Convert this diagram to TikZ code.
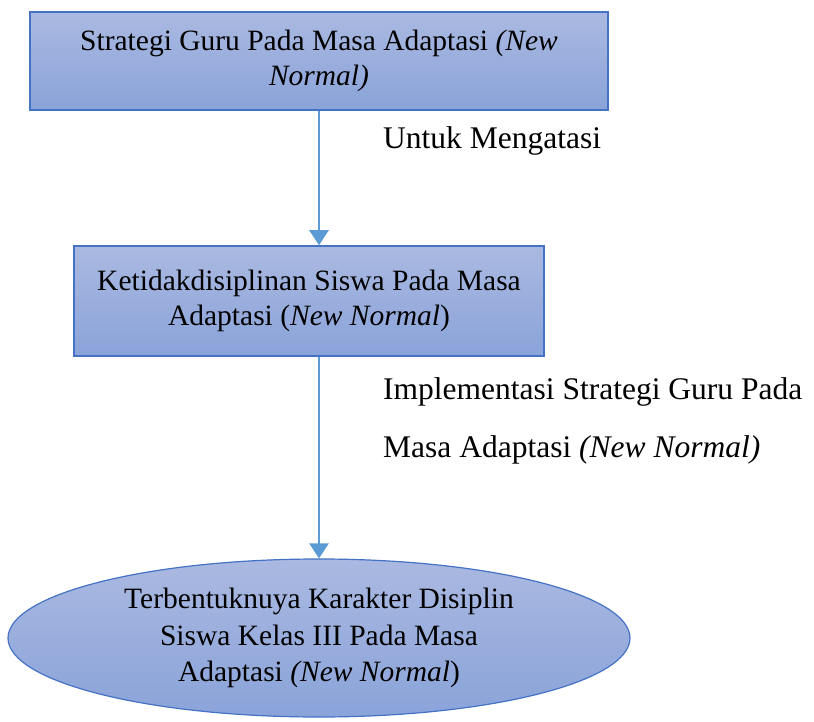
\documentclass[tikz,border=0pt]{standalone}
\usepackage{fontspec}
\setmainfont{Liberation Serif}
\usetikzlibrary{arrows.meta,positioning,calc,shapes.geometric}
\definecolor{BoxTop}{HTML}{AAB9E1}
\definecolor{BoxBot}{HTML}{8AA3D9}
\definecolor{BoxLine}{HTML}{4472C4}
\definecolor{Arrow}{HTML}{5B9BD5}

\begin{document}
\begin{tikzpicture}[x=1pt,y=-1pt,
  flowbox/.style={rectangle,draw=BoxLine,line width=1.5pt,top color=BoxTop,bottom color=BoxBot,
    inner sep=0pt,align=center,font=\fontsize{29.5}{35}\selectfont},
  flowell/.style={ellipse,draw=BoxLine,line width=1.2pt,top color=BoxTop,bottom color=BoxBot,
    inner sep=0pt,align=center,font=\fontsize{29.5}{36.5}\selectfont},
  flowarrow/.style={Arrow,line width=2.6pt,-{Triangle[width=19pt,length=15pt]}},
  flowlabel/.style={anchor=base west,inner sep=0pt,font=\fontsize{31.5}{38}\selectfont}]
\useasboundingbox (0,0) rectangle (814,722);
\node[flowbox,minimum width=578pt,minimum height=98pt] (strategi) at (319,61)
  {Strategi Guru Pada Masa Adaptasi \textit{(New}\\ \textit{Normal)}};
\node[flowbox,minimum width=470pt,minimum height=110pt] (disiplin) at (309,301)
  {Ketidakdisiplinan Siswa Pada Masa\\ Adaptasi (\textit{New Normal})};
\node[flowell,minimum width=622pt,minimum height=158pt] (karakter) at (319,638)
  {Terbentuknuya Karakter Disiplin\\ Siswa Kelas III Pada Masa\\ Adaptasi \textit{(New Normal})};
\draw[flowarrow] (strategi.south) -- (strategi.south |- disiplin.north);
\draw[flowarrow] (strategi.south |- disiplin.south) -- (karakter.north);
\node[flowlabel] (atasi) at (383,149) {Untuk Mengatasi};
\node[flowlabel] (impl1) at (383,399) {Implementasi Strategi Guru Pada};
\node[flowlabel] (impl2) at (383,457) {Masa Adaptasi \textit{(New Normal)}};
\end{tikzpicture}
\end{document}
